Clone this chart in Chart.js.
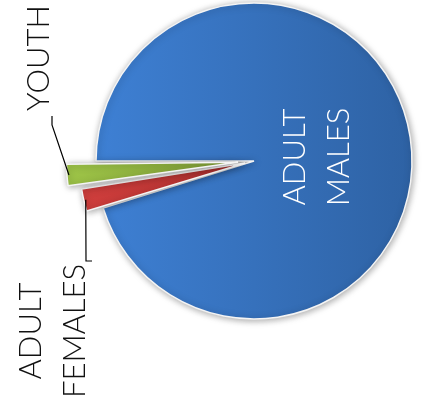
<!DOCTYPE html>
<html>
<head>
<meta charset="utf-8">
<script src="https://cdn.jsdelivr.net/npm/chart.js@4"></script>
<style>
  html, body { margin: 0; padding: 0; background: #fff; }
  #wrap { width: 422px; height: 402px; }
</style>
</head>
<body>
<div id="wrap"><canvas id="pieChart"></canvas></div>
<script>
//Slices, clockwise starting from the left edge of the pie
const categories = ['ADULT MALES', 'ADULT FEMALES', 'YOUTH'];
const shares = [95.2, 2.4, 2.4];

//Look of each slice (gradient left -> right) and how far it is pulled out
const gradStops = [
  ['#3e80d4', '#2e62a4'],
  ['#d6413f', '#ae302f'],
  ['#a2ca4a', '#7f9c36'],
];
const explode = [0, 36, 64];

//Where the rotated labels sit and the elbow of their leader lines
const labelStyle = [
  { cx: 317, cy: 157, color: '#ffffff', leader: null },
  { cx: 53, cy: 331, color: '#111111', leader: [[86, 261], [92, 261]] },
  { cx: 39, cy: 58, color: '#111111', leader: [[52, 125], [52, 116]] },
];
const fontFamily = `Lato, 'Open Sans', sans-serif`;

function sliceGradient(context) {
  const i = context.dataIndex;
  const chart = context.chart;
  const area = chart.chartArea;
  if (!area) return gradStops[i][0];
  const g = chart.ctx.createLinearGradient(i === 0 ? 96 : 60, 0, i === 0 ? 412 : 250, 0);
  g.addColorStop(0, gradStops[i][0]);
  g.addColorStop(1, gradStops[i][1]);
  return g;
}

//soft shadow under the pie
const shadowPlugin = {
  id: 'shadow',
  beforeDatasetsDraw(chart) {
    const ctx = chart.ctx;
    ctx.save();
    ctx.shadowColor = 'rgba(0,0,0,0.35)';
    ctx.shadowBlur = 7;
    ctx.shadowOffsetX = 1;
    ctx.shadowOffsetY = 1;
  },
  afterDatasetsDraw(chart) {
    chart.ctx.restore();
  },
};

//rotated labels + leader lines
const labelPlugin = {
  id: 'sliceLabels',
  afterDraw(chart) {
    const ctx = chart.ctx;
    const arcs = chart.getDatasetMeta(0).data;
    ctx.save();
    arcs.forEach((arc, i) => {
      const st = labelStyle[i];
      if (st.leader) {
        const p = arc.getProps(['x', 'y', 'startAngle', 'endAngle', 'outerRadius', 'circumference']);
        const mid = (p.startAngle + p.endAngle) / 2;
        const t = (arc.options.offset || 0) / 4;
        const fix = 1 - Math.sin(Math.min(Math.PI, p.circumference));
        const r = t + p.outerRadius + t * fix - 2;
        ctx.beginPath();
        ctx.moveTo(p.x + Math.cos(mid) * r, p.y + Math.sin(mid) * r);
        st.leader.forEach(([lx, ly]) => ctx.lineTo(lx, ly));
        ctx.strokeStyle = '#000';
        ctx.lineWidth = 1.2;
        ctx.stroke();
      }
      const lines = categories[i].split(' ');
      ctx.save();
      ctx.translate(st.cx, st.cy);
      ctx.rotate(-Math.PI / 2);
      ctx.fillStyle = st.color;
      ctx.font = `300 31px ${fontFamily}`;
      ctx.textAlign = 'center';
      ctx.textBaseline = 'middle';
      lines.forEach((line, k) => {
        ctx.fillText(line, 0, (k - (lines.length - 1) / 2) * 44);
      });
      ctx.restore();
    });
    ctx.restore();
  },
};

const pieChart = new Chart('pieChart', {
  type: 'pie',
  data: {
    labels: categories,
    datasets: [
      {
        data: shares,
        backgroundColor: sliceGradient,
        borderColor: '#f4f4f4',
        borderWidth: 1.5,
        offset: explode,
      },
    ],
  },
  options: {
    responsive: true,
    maintainAspectRatio: false,
    animation: false,
    rotation: 270,
    radius: 158,
    layout: { padding: { left: 86, right: 0, top: 0, bottom: 80 } },
    plugins: {
      legend: { display: false },
      tooltip: { enabled: false },
    },
  },
  plugins: [shadowPlugin, labelPlugin],
});
</script>
</body>
</html>
